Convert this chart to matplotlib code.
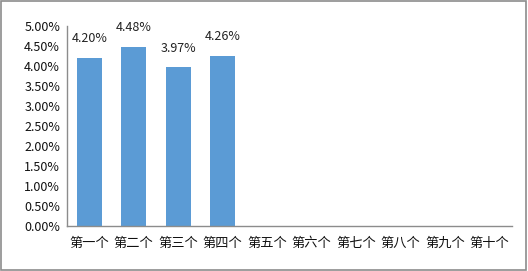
import matplotlib
matplotlib.use("Agg")
import matplotlib.pyplot as plt
from matplotlib.ticker import FuncFormatter, MultipleLocator
from matplotlib.patches import Rectangle

plt.rcParams['font.family'] = ['Noto Sans CJK SC', 'DejaVu Sans']

# data
categories = ['第一个', '第二个', '第三个', '第四个', '第五个',
              '第六个', '第七个', '第八个', '第九个', '第十个']
rates = [4.20, 4.48, 3.97, 4.26]  # percent, only the first four have values

fig = plt.figure(figsize=(5.28, 2.71), dpi=100)
ax = fig.add_axes([67 / 528, 1 - 226 / 271, (512 - 67) / 528, 200 / 271])

x = list(range(len(categories)))
bars = ax.bar(x[:len(rates)], rates, width=0.57, color='#5b9bd5')

for rect, v in zip(bars, rates):
    ax.annotate(f'{v:.2f}%', (rect.get_x() + rect.get_width() / 2, v),
                xytext=(0, 9), textcoords='offset points',
                ha='center', va='bottom', fontsize=9, color='#222222')

ax.set_xlim(-0.5, len(categories) - 0.5)
ax.set_ylim(0, 5)
ax.yaxis.set_major_locator(MultipleLocator(0.5))
ax.yaxis.set_major_formatter(FuncFormatter(lambda v, p: f'{v:.2f}%'))
ax.set_xticks(x)
ax.set_xticklabels(categories)
ax.tick_params(axis='both', length=0, colors='#111111')
ax.tick_params(axis='y', labelsize=9, pad=5)
ax.tick_params(axis='x', labelsize=9.5, pad=8)

for s in ['top', 'right']:
    ax.spines[s].set_visible(False)
for s in ['left', 'bottom']:
    ax.spines[s].set_color('#8c8c8c')
    ax.spines[s].set_linewidth(1)

# outer chart border
fig.patches.append(Rectangle((0.002, 0.004), 0.995, 0.992, transform=fig.transFigure,
                             fill=False, edgecolor='#8c8c8c', linewidth=1.2))

fig.savefig('out.png', dpi=100)
